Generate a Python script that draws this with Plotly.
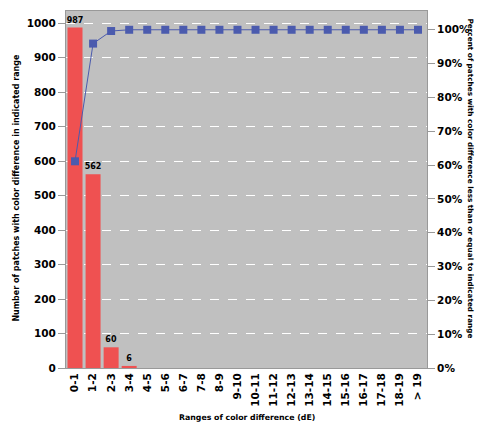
import plotly.graph_objects as go

categories = ["0-1", "1-2", "2-3", "3-4", "4-5", "5-6", "6-7", "7-8", "8-9", "9-10",
              "10-11", "11-12", "12-13", "13-14", "14-15", "15-16", "16-17", "17-18",
              "18-19", "> 19"]
counts = [987, 562, 60, 6, 0, 0, 0, 0, 0, 0, 0, 0, 0, 0, 0, 0, 0, 0, 0, 0]

total = sum(counts)
cum = []
s = 0
for c in counts:
    s += c
    cum.append(s / total)

labels = [str(c) if c > 0 else "" for c in counts]

FONT = "DejaVu Sans, Liberation Sans, Arial, sans-serif"

fig = go.Figure()
fig.add_trace(go.Bar(
    x=categories, y=counts, marker=dict(color="#EF5151", line=dict(width=0)),
    text=labels, textposition="outside", cliponaxis=False, constraintext="none",
    textfont=dict(family=FONT, size=8, color="black", weight="bold"),
    yaxis="y", showlegend=False,
))
fig.add_trace(go.Scatter(
    x=categories, y=cum, mode="lines+markers", yaxis="y2",
    line=dict(color="#4B5BAE", width=1),
    marker=dict(symbol="square", size=8, color="#4B5BAE"),
    showlegend=False, cliponaxis=False,
))

fig.update_layout(
    width=487, height=430,
    margin=dict(l=66, r=60, t=11, b=62),
    paper_bgcolor="white", plot_bgcolor="#C0C0C0",
    bargap=0.17,
    font=dict(family=FONT, color="black"),
    xaxis=dict(
        type="category", automargin=False, range=[-0.5, len(categories) - 0.5],
        tickangle=-90, tickfont=dict(size=10.5, weight="bold"),
        showline=True, linecolor="#999999", linewidth=1, mirror=True,
        ticks="", showgrid=False,
    ),
    yaxis=dict(
        automargin=False,
        range=[0, 1035], dtick=100, tick0=0,
        tickfont=dict(size=10.5, weight="bold"),
        showgrid=True, gridcolor="white", griddash="dash", gridwidth=1,
        ticks="outside", ticklen=7, tickcolor="#999999",
        showline=True, linecolor="#999999", zeroline=False,
    ),
    yaxis2=dict(
        automargin=False,
        overlaying="y", side="right", range=[0, 1.0555], dtick=0.1, tick0=0,
        tickformat=".0%", tickfont=dict(size=10.5, weight="bold"),
        showgrid=False, zeroline=False,
        ticks="outside", ticklen=7, tickcolor="#999999",
        showline=True, linecolor="#999999",
    ),
    annotations=[
        dict(text="Percent of patches with color difference less than or equal to indicated range",
             xref="paper", yref="paper", x=1.138, y=0.53, textangle=90, showarrow=False,
             font=dict(size=7.3, weight="bold", family=FONT)),
        dict(text="Number of patches with color difference in indicated range",
             xref="paper", yref="paper", x=-0.155, y=0.504, textangle=-90, showarrow=False,
             font=dict(size=8, weight="bold", family=FONT)),
        dict(text="Ranges of color difference (dE)",
             xref="paper", yref="paper", x=0.5, y=-0.157, showarrow=False,
             font=dict(size=7.8, weight="bold", family=FONT)),
    ],
)

fig.write_html("out.html", config={"displayModeBar": False},
               post_script="document.body.style.margin='0';")
